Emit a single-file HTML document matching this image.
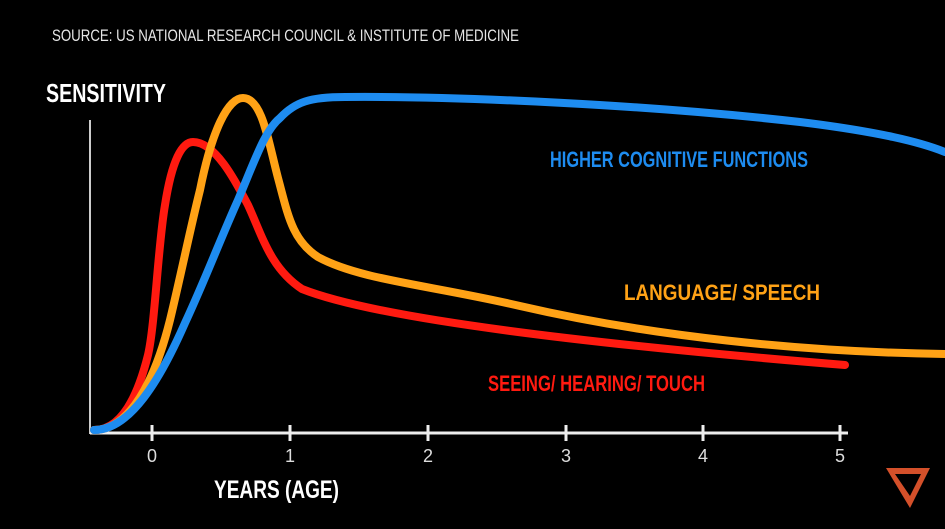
<!DOCTYPE html>
<html><head><style>
body{margin:0;background:#000;width:945px;height:524px;overflow:hidden}
svg text{font-family:"Liberation Sans Narrow","Liberation Sans",sans-serif}
</style></head><body>
<svg width="945" height="524" viewBox="0 0 945 524" xmlns="http://www.w3.org/2000/svg">
<rect width="945" height="524" fill="#000"/>
<text x="52" y="41" fill="#e6e6e6" font-size="17" textLength="467" lengthAdjust="spacingAndGlyphs">SOURCE: US NATIONAL RESEARCH COUNCIL &amp; INSTITUTE OF MEDICINE</text>
<text x="46" y="102" fill="#fff" font-size="26" font-weight="bold" textLength="120" lengthAdjust="spacingAndGlyphs">SENSITIVITY</text>
<line x1="90" y1="120" x2="90" y2="434" stroke="#ccc" stroke-width="2"/>
<line x1="90" y1="433" x2="848" y2="433" stroke="#eee" stroke-width="3"/>
<g stroke="#eee" stroke-width="3">
<line x1="152" y1="425" x2="152" y2="441"/><line x1="290" y1="425" x2="290" y2="441"/>
<line x1="428" y1="425" x2="428" y2="441"/><line x1="566" y1="425" x2="566" y2="441"/>
<line x1="703" y1="425" x2="703" y2="441"/><line x1="840" y1="425" x2="840" y2="441"/>
</g>
<g fill="#ddd" font-size="18" text-anchor="middle">
<text x="152" y="462">0</text><text x="290" y="462">1</text><text x="428" y="462">2</text>
<text x="566" y="462">3</text><text x="703" y="462">4</text><text x="840" y="462">5</text>
</g>
<text x="214" y="498" fill="#fff" font-size="25" font-weight="bold" textLength="125" lengthAdjust="spacingAndGlyphs">YEARS (AGE)</text>
<g fill="none" stroke-width="8" stroke-linecap="round">
<path d="M94,430 C122,430 138,395 148,355 C155,325 158,245 165,205 C172,160 182,142 193,142 C215,142 235,180 248,205 C262,235 270,268 302,289 C380,320 600,345 845,365" stroke="#ff1a10"/>
<path d="M94,430 C130,430 155,380 170,320 C182,270 190,230 200,190 C212,130 228,98 243,98 C262,98 268,140 278,178 C288,215 292,240 318,257 C360,280 430,285 520,306 C650,336 800,352 945,354" stroke="#ffa216"/>
<path d="M94,430 C130,430 160,380 185,323 C205,280 220,240 238,200 C255,160 265,130 280,118 C295,102 310,97 345,97 C460,96 650,105 800,122 C880,132 920,142 945,152" stroke="#1e8cf0"/>
</g>
<text x="550" y="167" fill="#1e8cf0" font-size="22" font-weight="bold" textLength="258" lengthAdjust="spacingAndGlyphs">HIGHER COGNITIVE FUNCTIONS</text>
<text x="624" y="300" fill="#ffa216" font-size="22" font-weight="bold" textLength="196" lengthAdjust="spacingAndGlyphs">LANGUAGE/ SPEECH</text>
<text x="488" y="391" fill="#ff1a10" font-size="22" font-weight="bold" textLength="217" lengthAdjust="spacingAndGlyphs">SEEING/ HEARING/ TOUCH</text>
<path d="M886,468 L930,468 L910,508 Z M895,474 L921,474 L910,496 Z" fill="#d4502a" fill-rule="evenodd"/>
</svg>
</body></html>
